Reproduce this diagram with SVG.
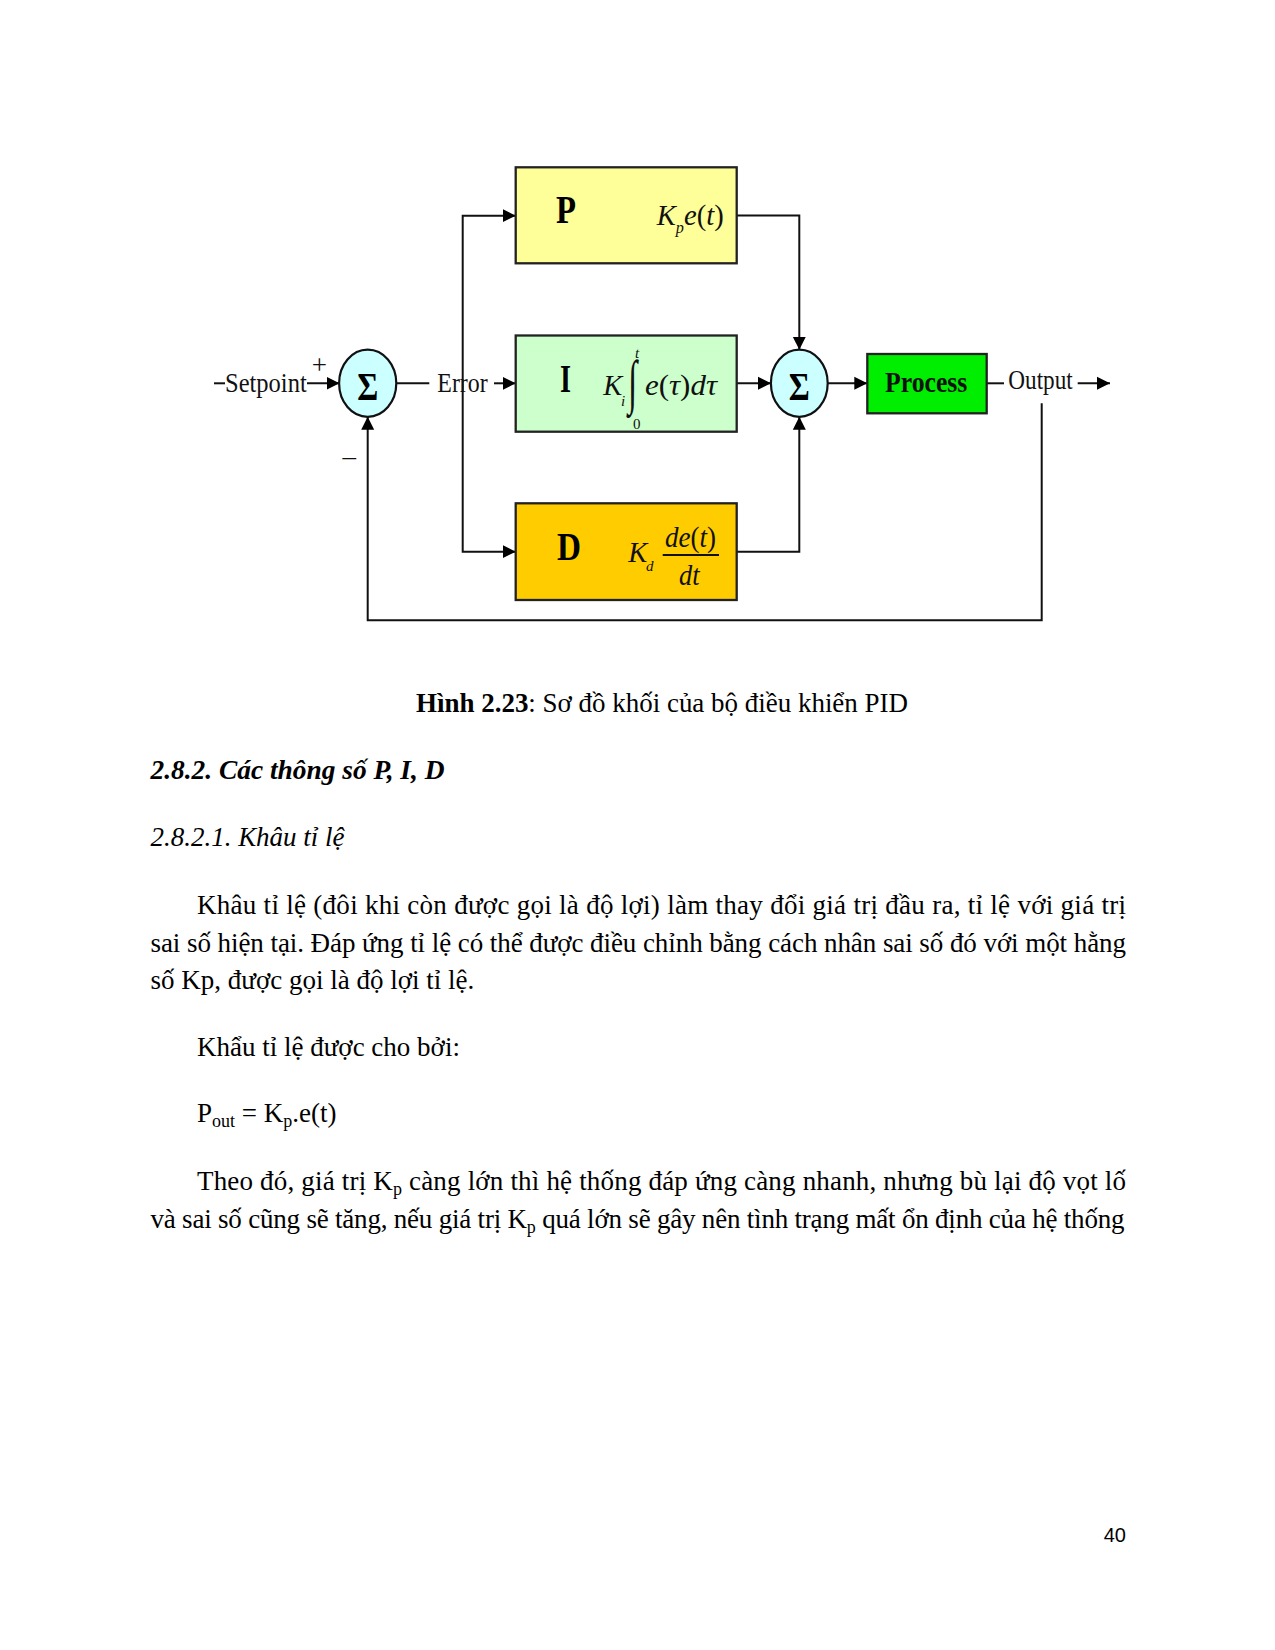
<svg xmlns="http://www.w3.org/2000/svg" width="1275" height="1650" viewBox="0 0 1275 1650">
<style>
  .bg{fill:#ffffff}
  .wire{fill:none;stroke:#111;stroke-width:2}
  .box{stroke:#222;stroke-width:2.3}
  .sum{fill:#ccffff;stroke:#111;stroke-width:2.2}
  .lbl{font-family:"Liberation Serif","Times New Roman",serif;font-size:27px;fill:#111}
  .big{font-family:"Liberation Serif","Times New Roman",serif;font-size:40px;font-weight:bold;fill:#000}
  .sig{font-family:"Liberation Serif","Times New Roman",serif;font-size:40px;font-weight:bold;fill:#000}
  .math{font-family:"Liberation Serif","Times New Roman",serif;font-size:30px;font-style:italic;fill:#111}
  .sm{font-family:"Liberation Serif","Times New Roman",serif;font-size:15px;font-style:italic;fill:#111}
  .body{font-family:"Liberation Serif","Times New Roman",serif;font-size:27px;fill:#000}
  .pg{font-family:"Liberation Sans",Arial,sans-serif;font-size:20px;fill:#000}
</style>
<defs>
  <marker id="arr" markerUnits="userSpaceOnUse" markerWidth="14" markerHeight="14" refX="13" refY="7" orient="auto">
    <path d="M0,0.5 L13,7 L0,13.5 z" fill="#000"/>
  </marker>
</defs>
<rect class="bg" x="0" y="0" width="1275" height="1650"/>

<g id="connectors">
  <path class="wire" d="M214,383.3 H225"/>
  <path class="wire" d="M307,383.3 H339.5" marker-end="url(#arr)"/>
  <path class="wire" d="M396.5,383.3 H429.3"/>
  <path class="wire" d="M494,383.3 H515.7" marker-end="url(#arr)"/>
  <path class="wire" d="M462.7,383.3 V215.7 H515.7" marker-end="url(#arr)"/>
  <path class="wire" d="M462.7,383.3 V551.7 H515.7" marker-end="url(#arr)"/>
  <path class="wire" d="M736.7,215.5 H799.3 V349.8" marker-end="url(#arr)"/>
  <path class="wire" d="M736.7,383.3 H771" marker-end="url(#arr)"/>
  <path class="wire" d="M736.7,551.7 H799.3 V416.8" marker-end="url(#arr)"/>
  <path class="wire" d="M827.7,383.3 H867.3" marker-end="url(#arr)"/>
  <path class="wire" d="M986.7,383.3 H1004"/>
  <path class="wire" d="M1077.7,383.3 H1110" marker-end="url(#arr)"/>
  <path class="wire" d="M1041.7,403.3 V620.3 H367.7 V416.8" marker-end="url(#arr)"/>
</g>

<g id="setpoint-label">
  <text class="lbl" x="225" y="391.7" textLength="81.7" lengthAdjust="spacingAndGlyphs">Setpoint</text>
  <text class="lbl" x="319.3" y="374" text-anchor="middle">+</text>
  <text class="lbl" x="349.2" y="465" text-anchor="middle">–</text>
</g>

<g id="sum1">
  <ellipse class="sum" cx="367.7" cy="383.3" rx="28.6" ry="33.6"/>
  <text class="sig" x="367.7" y="400" text-anchor="middle" textLength="21" lengthAdjust="spacingAndGlyphs">Σ</text>
</g>

<g id="error-label">
  <text class="lbl" x="437.3" y="391.7" textLength="50.4" lengthAdjust="spacingAndGlyphs">Error</text>
</g>

<g id="block-p">
  <rect class="box" x="515.7" y="167.3" width="221" height="96" fill="#ffff99"/>
  <text class="big" x="556" y="223.3" textLength="20" lengthAdjust="spacingAndGlyphs">P</text>
  <text class="math" x="656.7" y="225" textLength="67" lengthAdjust="spacingAndGlyphs">K<tspan font-size="17" dy="8">p</tspan><tspan dy="-8">e</tspan><tspan font-style="normal">(</tspan>t<tspan font-style="normal">)</tspan></text>
</g>

<g id="block-i">
  <rect class="box" x="515.7" y="335.5" width="221" height="96.2" fill="#ccffcc"/>
  <text class="big" x="560" y="391.7" textLength="11" lengthAdjust="spacingAndGlyphs">I</text>
  <text class="math" x="603.3" y="395" textLength="19" lengthAdjust="spacingAndGlyphs">K</text>
  <text class="sm" x="621" y="406">i</text>
  <text class="math" x="0" y="0" style="font-style:normal" transform="translate(628,402) scale(1.1,2)">∫</text>
  <text class="sm" x="635" y="358">t</text>
  <text class="sm" x="633" y="429" style="font-style:normal">0</text>
  <text class="math" x="645" y="395" textLength="72" lengthAdjust="spacingAndGlyphs">e<tspan font-style="normal">(</tspan>τ<tspan font-style="normal">)</tspan>dτ</text>
</g>

<g id="block-d">
  <rect class="box" x="515.7" y="503.3" width="221" height="96.7" fill="#ffcc00"/>
  <text class="big" x="557" y="560" textLength="24" lengthAdjust="spacingAndGlyphs">D</text>
  <text class="math" x="628.3" y="561.7" textLength="19" lengthAdjust="spacingAndGlyphs">K</text>
  <text class="sm" x="646" y="571">d</text>
  <text class="math" x="665" y="546.7" textLength="51" lengthAdjust="spacingAndGlyphs">de<tspan font-style="normal">(</tspan>t<tspan font-style="normal">)</tspan></text>
  <line x1="662.7" y1="555" x2="719" y2="555" stroke="#111" stroke-width="2"/>
  <text class="math" x="679" y="585" textLength="20.5" lengthAdjust="spacingAndGlyphs">dt</text>
</g>

<g id="sum2">
  <ellipse class="sum" cx="799.3" cy="383.3" rx="28.4" ry="33.6"/>
  <text class="sig" x="799.3" y="400" text-anchor="middle" textLength="21" lengthAdjust="spacingAndGlyphs">Σ</text>
</g>

<g id="process">
  <rect class="box" x="867.3" y="354" width="119.4" height="59.3" fill="#00ee00"/>
  <text class="lbl" x="885" y="391.7" style="font-size:30px;font-weight:bold" textLength="82.3" lengthAdjust="spacingAndGlyphs">Process</text>
</g>

<g id="output-label">
  <text class="lbl" x="1008.3" y="389" textLength="64.4" lengthAdjust="spacingAndGlyphs">Output</text>
</g>

<g id="page-text">
  <text class="body" x="416" y="711.5" textLength="492" lengthAdjust="spacingAndGlyphs"><tspan font-weight="bold">Hình 2.23</tspan>: Sơ đồ khối của bộ điều khiển PID</text>
  <text class="body" x="150.5" y="779" font-weight="bold" font-style="italic" textLength="294" lengthAdjust="spacingAndGlyphs">2.8.2. Các thông số P, I, D</text>
  <text class="body" x="150.5" y="846" font-style="italic" textLength="194" lengthAdjust="spacingAndGlyphs">2.8.2.1. Khâu tỉ lệ</text>
  <text class="body" x="197" y="914" textLength="929" lengthAdjust="spacing">Khâu tỉ lệ (đôi khi còn được gọi là độ lợi) làm thay đổi giá trị đầu ra, tỉ lệ với giá trị</text>
  <text class="body" x="150.5" y="951.5" textLength="975.5" lengthAdjust="spacing">sai số hiện tại. Đáp ứng tỉ lệ có thể được điều chỉnh bằng cách nhân sai số đó với một hằng</text>
  <text class="body" x="150.5" y="989">số Kp, được gọi là độ lợi tỉ lệ.</text>
  <text class="body" x="197" y="1056">Khẩu tỉ lệ được cho bởi:</text>
  <text class="body" x="197" y="1122">P<tspan font-size="18" dy="5">out</tspan><tspan dy="-5"> = K</tspan><tspan font-size="18" dy="5">p</tspan><tspan dy="-5">.e(t)</tspan></text>
  <text class="body" x="197" y="1190" textLength="929" lengthAdjust="spacing">Theo đó, giá trị K<tspan font-size="18" dy="5">p</tspan><tspan dy="-5"> càng lớn thì hệ thống đáp ứng càng nhanh, nhưng bù lại độ vọt lố</tspan></text>
  <text class="body" x="150.5" y="1228" textLength="974" lengthAdjust="spacing">và sai số cũng sẽ tăng, nếu giá trị K<tspan font-size="18" dy="5">p</tspan><tspan dy="-5"> quá lớn sẽ gây nên tình trạng mất ổn định của hệ thống</tspan></text>
  <text class="pg" x="1126" y="1542" text-anchor="end">40</text>
</g>
</svg>
